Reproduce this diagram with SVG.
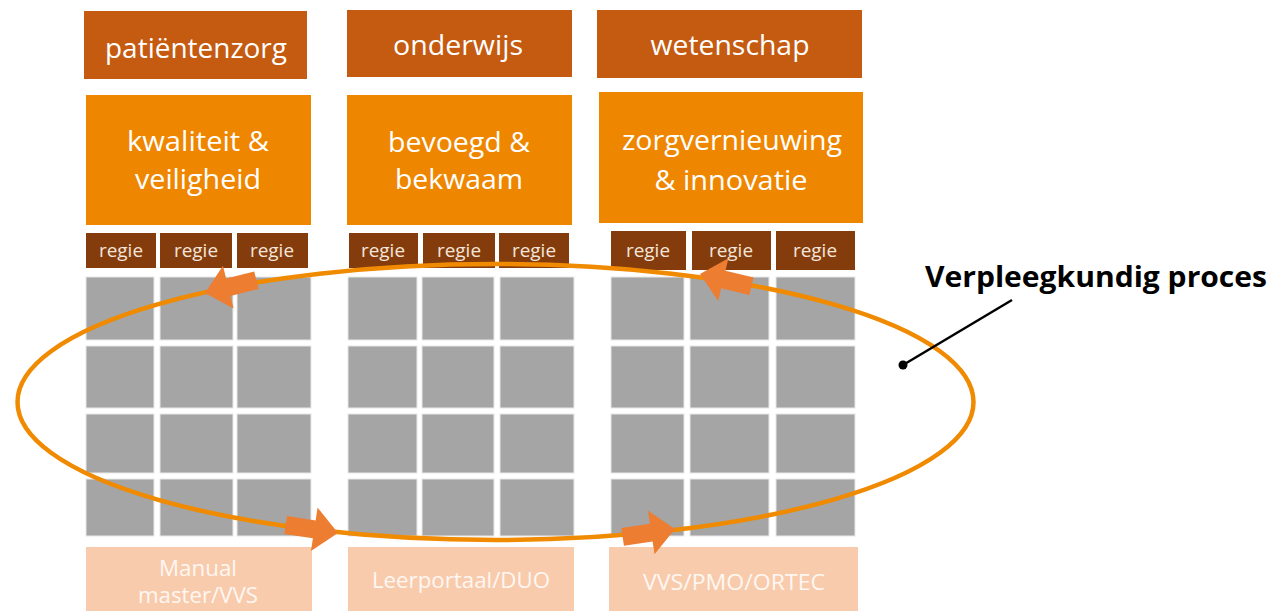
<svg xmlns="http://www.w3.org/2000/svg" width="1273" height="611" viewBox="0 0 1273 611">
<style>
.hdr{fill:#C55A11}
.big{fill:#EF8600}
.reg{fill:#843C0C}
.cell{fill:#A5A5A5;stroke:#E8E8E8;stroke-width:1}
.peach{fill:#F8CBAD}
.t{font-family:"Open Sans","Liberation Sans",Arial,sans-serif;fill:#FFFFFF;text-anchor:middle}
.th{font-size:27.5px}
.tb{font-size:28px}
.tr{font-size:18px;fill:#F4E6DA}
.tp{font-size:21px;fill:#FFF7F2}
.arr{fill:#ED7D31}
</style>
<defs>
<polygon id="blk" points="0,0 -24,-22 -24,-9 -53,-9 -53,9 -24,9 -24,22"/>
</defs>
<rect width="1273" height="611" fill="#FFFFFF"/>

<g id="col1">
<g id="hdr1"><rect class="hdr" x="84" y="11" width="223" height="68"/><text class="t th" x="196" y="58" textLength="182" lengthAdjust="spacingAndGlyphs">patiëntenzorg</text></g>
<g id="big1"><rect class="big" x="86" y="95" width="225" height="130"/><text class="t tb" x="198" y="151" textLength="142" lengthAdjust="spacingAndGlyphs">kwaliteit &amp;</text><text class="t tb" x="198" y="189" textLength="126" lengthAdjust="spacingAndGlyphs">veiligheid</text></g>
<g id="reg1">
<rect class="reg" x="86" y="233" width="70" height="35"/><text class="t tr" x="121" y="257" textLength="44" lengthAdjust="spacingAndGlyphs">regie</text>
<rect class="reg" x="160" y="233" width="72" height="35"/><text class="t tr" x="196" y="257" textLength="44" lengthAdjust="spacingAndGlyphs">regie</text>
<rect class="reg" x="237" y="233" width="71" height="35"/><text class="t tr" x="272" y="257" textLength="44" lengthAdjust="spacingAndGlyphs">regie</text>
</g>
<g id="grid1">
<rect class="cell" x="86" y="277" width="68" height="63"/><rect class="cell" x="160" y="277" width="73" height="63"/><rect class="cell" x="237" y="277" width="74" height="63"/>
<rect class="cell" x="86" y="346" width="68" height="62"/><rect class="cell" x="160" y="346" width="73" height="62"/><rect class="cell" x="237" y="346" width="74" height="62"/>
<rect class="cell" x="86" y="414" width="68" height="59"/><rect class="cell" x="160" y="414" width="73" height="59"/><rect class="cell" x="237" y="414" width="74" height="59"/>
<rect class="cell" x="86" y="479" width="68" height="57"/><rect class="cell" x="160" y="479" width="73" height="57"/><rect class="cell" x="237" y="479" width="74" height="57"/>
</g>
<g id="bot1"><rect class="peach" x="86" y="547" width="226" height="64"/><text class="t tp" x="198" y="576" textLength="78" lengthAdjust="spacingAndGlyphs">Manual</text><text class="t tp" x="198" y="603" textLength="120" lengthAdjust="spacingAndGlyphs">master/VVS</text></g>
</g>

<g id="col2">
<g id="hdr2"><rect class="hdr" x="347" y="10" width="225" height="67"/><text class="t th" x="458" y="55" textLength="130" lengthAdjust="spacingAndGlyphs">onderwijs</text></g>
<g id="big2"><rect class="big" x="347" y="95" width="225" height="130"/><text class="t tb" x="459" y="152" textLength="142" lengthAdjust="spacingAndGlyphs">bevoegd &amp;</text><text class="t tb" x="459" y="189" textLength="128" lengthAdjust="spacingAndGlyphs">bekwaam</text></g>
<g id="reg2">
<rect class="reg" x="349" y="233" width="69" height="35"/><text class="t tr" x="383" y="257" textLength="44" lengthAdjust="spacingAndGlyphs">regie</text>
<rect class="reg" x="423" y="233" width="72" height="35"/><text class="t tr" x="459" y="257" textLength="44" lengthAdjust="spacingAndGlyphs">regie</text>
<rect class="reg" x="499" y="233" width="70" height="35"/><text class="t tr" x="534" y="257" textLength="44" lengthAdjust="spacingAndGlyphs">regie</text>
</g>
<g id="grid2">
<rect class="cell" x="348" y="277" width="69" height="63"/><rect class="cell" x="422" y="277" width="72" height="63"/><rect class="cell" x="500" y="277" width="74" height="63"/>
<rect class="cell" x="348" y="346" width="69" height="62"/><rect class="cell" x="422" y="346" width="72" height="62"/><rect class="cell" x="500" y="346" width="74" height="62"/>
<rect class="cell" x="348" y="414" width="69" height="59"/><rect class="cell" x="422" y="414" width="72" height="59"/><rect class="cell" x="500" y="414" width="74" height="59"/>
<rect class="cell" x="348" y="479" width="69" height="57"/><rect class="cell" x="422" y="479" width="72" height="57"/><rect class="cell" x="500" y="479" width="74" height="57"/>
</g>
<g id="bot2"><rect class="peach" x="348" y="547" width="226" height="64"/><text class="t tp" x="461" y="588" textLength="178" lengthAdjust="spacingAndGlyphs">Leerportaal/DUO</text></g>
</g>

<g id="col3">
<g id="hdr3"><rect class="hdr" x="597" y="10" width="265" height="68"/><text class="t th" x="730" y="55" textLength="159" lengthAdjust="spacingAndGlyphs">wetenschap</text></g>
<g id="big3"><rect class="big" x="599" y="92" width="264" height="131"/><text class="t tb" x="732" y="150" textLength="220" lengthAdjust="spacingAndGlyphs">zorgvernieuwing</text><text class="t tb" x="731" y="190" textLength="153" lengthAdjust="spacingAndGlyphs">&amp; innovatie</text></g>
<g id="reg3">
<rect class="reg" x="611" y="231" width="75" height="39"/><text class="t tr" x="648" y="257" textLength="44" lengthAdjust="spacingAndGlyphs">regie</text>
<rect class="reg" x="692" y="231" width="79" height="39"/><text class="t tr" x="731" y="257" textLength="44" lengthAdjust="spacingAndGlyphs">regie</text>
<rect class="reg" x="776" y="231" width="79" height="39"/><text class="t tr" x="815" y="257" textLength="44" lengthAdjust="spacingAndGlyphs">regie</text>
</g>
<g id="grid3">
<rect class="cell" x="611" y="277" width="73" height="63"/><rect class="cell" x="690" y="277" width="79" height="63"/><rect class="cell" x="776" y="277" width="79" height="63"/>
<rect class="cell" x="611" y="346" width="73" height="62"/><rect class="cell" x="690" y="346" width="79" height="62"/><rect class="cell" x="776" y="346" width="79" height="62"/>
<rect class="cell" x="611" y="414" width="73" height="59"/><rect class="cell" x="690" y="414" width="79" height="59"/><rect class="cell" x="776" y="414" width="79" height="59"/>
<rect class="cell" x="611" y="479" width="73" height="57"/><rect class="cell" x="690" y="479" width="79" height="57"/><rect class="cell" x="776" y="479" width="79" height="57"/>
</g>
<g id="bot3"><rect class="peach" x="609" y="547" width="249" height="64"/><text class="t tp" x="734" y="590" textLength="182" lengthAdjust="spacingAndGlyphs">VVS/PMO/ORTEC</text></g>
</g>

<g id="connectors">
<ellipse cx="495.5" cy="402" rx="478" ry="138" fill="none" stroke="#F08A00" stroke-width="4.5"/>
<use href="#blk" class="arr" transform="translate(205,293) rotate(166)"/>
<use href="#blk" class="arr" transform="translate(700,274) rotate(193.5)"/>
<use href="#blk" class="arr" transform="translate(338,533) rotate(8.7)"/>
<use href="#blk" class="arr" transform="translate(675,529) rotate(-8.6)"/>
<line x1="903" y1="365" x2="1012" y2="300" stroke="#000000" stroke-width="2.5"/>
<circle cx="903" cy="365" r="4.5" fill="#000000"/>
</g>

<g id="label">
<text x="925" y="287" font-family="'Open Sans','Liberation Sans',Arial,sans-serif" font-weight="bold" font-size="28" fill="#000000" textLength="342" lengthAdjust="spacingAndGlyphs">Verpleegkundig proces</text>
</g>
</svg>
